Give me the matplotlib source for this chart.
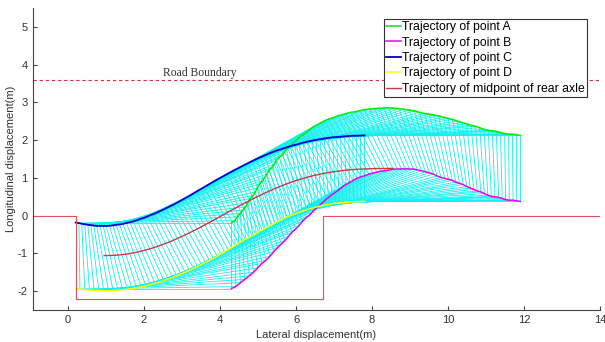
import numpy as np
import matplotlib.pyplot as plt

# rear axle midpoint path, sampled every 0.1 m in x
rear_x = np.round(np.arange(0.95, 8.56, 0.1), 2)
rear_y = [-1.060, -1.060, -1.057, -1.051, -1.043, -1.032, -1.019, -1.002, -0.983, -0.962,
          -0.938, -0.911, -0.882, -0.851, -0.818, -0.782, -0.744, -0.705, -0.663, -0.619,
          -0.574, -0.528, -0.479, -0.430, -0.379, -0.327, -0.274, -0.220, -0.166, -0.111,
          -0.055, 0.001, 0.057, 0.113, 0.169, 0.224, 0.278, 0.332, 0.384, 0.436,
          0.486, 0.535, 0.583, 0.630, 0.675, 0.719, 0.761, 0.802, 0.841, 0.878,
          0.913, 0.946, 0.977, 1.006, 1.032, 1.057, 1.080, 1.102, 1.122, 1.140,
          1.157, 1.172, 1.185, 1.197, 1.207, 1.216, 1.224, 1.230, 1.235, 1.239,
          1.243, 1.246, 1.248, 1.249, 1.250, 1.251, 1.251]

# vehicle body relative to the rear axle midpoint
front_len = 3.35
rear_len = 0.75
half_w = 0.875

# parking slot and road edge
slot_x = [-0.93, 0.2, 0.2, 6.7, 6.7, 14]
slot_y = [0, 0, -2.2, -2.2, 0, 0]
road_y = 3.6

plt.rcParams['font.family'] = ['Liberation Sans', 'DejaVu Sans']
plt.rcParams['axes.unicode_minus'] = False

rear_x = np.asarray(rear_x)
rear_y = np.asarray(rear_y)
theta = np.arctan2(np.gradient(rear_y), np.gradient(rear_x))
c, s = np.cos(theta), np.sin(theta)


def corner(lx, ly):
    return rear_x + lx * c - ly * s, rear_y + lx * s + ly * c


ax_, ay_ = corner(front_len, half_w)
bx_, by_ = corner(front_len, -half_w)
cx_, cy_ = corner(-rear_len, half_w)
dx_, dy_ = corner(-rear_len, -half_w)

fig = plt.figure(figsize=(6.05, 3.42), dpi=100)
ax = fig.add_axes([0.054, 0.094, 0.938, 0.882])

# body outline at every step
for i in range(len(rear_x)):
    ax.plot([ax_[i], bx_[i], dx_[i], cx_[i], ax_[i]],
            [ay_[i], by_[i], dy_[i], cy_[i], ay_[i]],
            color='#10f0f0', lw=0.6)

ax.plot(ax_, ay_, color='#00ee00', lw=1.1, label='Trajectory of point A')
ax.plot(bx_, by_, color='#ee00ee', lw=1.1, label='Trajectory of point B')
ax.plot(cx_, cy_, color='#0000d0', lw=1.3, label='Trajectory of point C')
ax.plot(dx_, dy_, color='#ffff00', lw=1.1, label='Trajectory of point D')
ax.plot(rear_x, rear_y, color='#c83848', lw=1.0,
        label='Trajectory of midpoint of rear axle')

ax.plot(slot_x, slot_y, color='#e8505a', lw=0.8)
ax.plot([-0.93, 14], [road_y, road_y], color='#d83040', lw=0.8,
        linestyle=(0, (3, 2.5)))
ax.text(2.5, 3.69, 'Road Boundary', family='Liberation Serif', fontsize=8.4,
        color='#333333')

ax.set_xlim(-0.93, 14)
ax.set_ylim(-2.5, 5.5)
ax.set_xticks(range(0, 15, 2))
ax.set_yticks(range(-2, 6))
for side in ['top', 'right']:
    ax.spines[side].set_visible(False)
for side in ['left', 'bottom']:
    ax.spines[side].set_color('#444444')
ax.tick_params(direction='in', length=3, labelsize=8, colors='#444444',
               labelcolor='#333333')
ax.set_xlabel('Lateral displacement(m)', fontsize=8, color='#333333', labelpad=4)
ax.set_ylabel('Longitudinal displacement(m)', fontsize=8, color='#333333',
              labelpad=1)

leg = ax.legend(loc='upper right', bbox_to_anchor=(0.977, 0.965), fontsize=8.8,
                frameon=True, fancybox=False, framealpha=1, handlelength=1.2,
                handletextpad=0.1, borderpad=0.2, labelspacing=0.28,
                borderaxespad=0)
leg.get_frame().set_edgecolor('#333333')
leg.get_frame().set_linewidth(0.8)

fig.savefig('out.png', dpi=100)
